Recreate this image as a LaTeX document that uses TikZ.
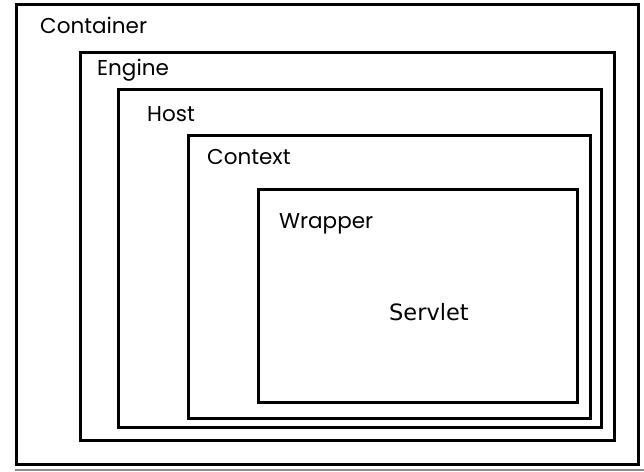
\documentclass[tikz,border=0pt]{standalone}
\usepackage{fontspec}
\setmainfont{Poppins}
\newfontfamily\srvfont{DejaVu Sans}
\usetikzlibrary{positioning,calc}
\tikzset{
  box/.style={draw=black,line width=2.8pt,anchor=north west,inner sep=0pt},
  lbl/.style={anchor=base west,inner sep=0pt,font=\fontsize{21.5}{24}\selectfont},
  srv/.style={anchor=base west,inner sep=0pt,font=\srvfont\fontsize{22.5}{24}\selectfont},
}

\begin{document}
\begin{tikzpicture}[x=1pt,y=-1pt]
  \useasboundingbox[fill=white] (0,0) rectangle (644,471);
  % nested layers, outside in
  \node[box,minimum width=622pt,minimum height=460pt] (container) at (15,3) {};
  \node[box,minimum width=534pt,minimum height=388pt] (engine) at (79,51) {};
  \node[box,minimum width=483pt,minimum height=338pt] (host) at (117,88) {};
  \node[box,minimum width=402pt,minimum height=283pt] (context) at (187,134) {};
  \node[box,minimum width=319pt,minimum height=213pt] (wrapper) at (257,188) {};
  \draw[black!45,line width=2pt]
    ($(container.south west)+(0,4)$) -- ($(container.south east)+(5,4)$)
    -- ($(container.north east)+(5,2)$);
  % labels
  \node[lbl] (containerLbl) at (40,33) {Container};
  \node[lbl] (engineLbl) at (97,75) {Engine};
  \node[lbl] (hostLbl) at (147,121) {Host};
  \node[lbl] (contextLbl) at (207,164) {Context};
  \node[lbl] (wrapperLbl) at (279,228) {Wrapper};
  \node[srv] (servlet) at (389,320) {Servlet};
\end{tikzpicture}
\end{document}
